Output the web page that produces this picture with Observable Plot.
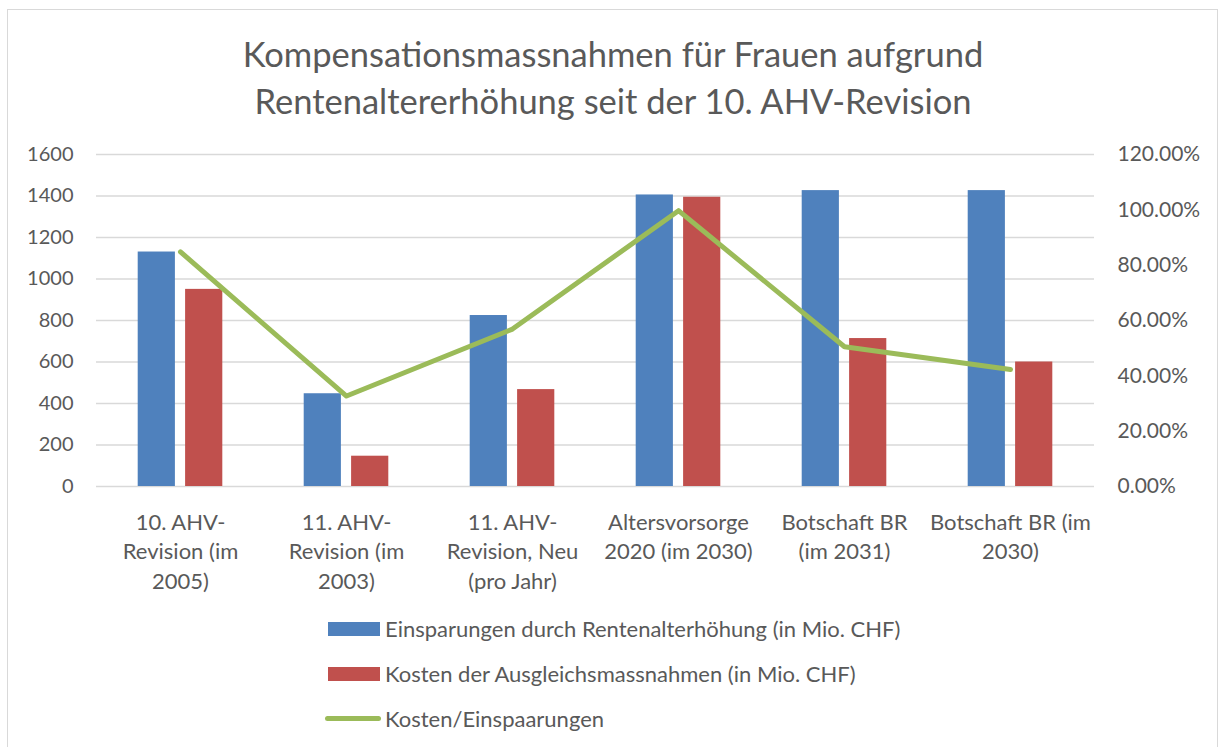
<!DOCTYPE html>
<html><head><meta charset="utf-8">
<script src="https://cdn.jsdelivr.net/npm/d3@7"></script>
<script src="https://cdn.jsdelivr.net/npm/@observablehq/plot@0.6"></script>
<style>
html,body{margin:0;padding:0;background:#fff;}
body{font-family:Lato,"Open Sans",sans-serif;color:#595959;width:1218px;height:747px;position:relative;overflow:hidden}
#frame{position:absolute;left:7px;top:9px;width:1211px;height:760px;border:1.5px solid #d9d9d9;box-sizing:border-box}
#title{position:absolute;left:0;width:1226px;top:30px;text-align:center;font-size:34.5px;line-height:47px;color:#595959}
#chart{position:absolute;left:0;top:140px}
#legend{position:absolute;left:325px;top:606px;font-size:22px;color:#595959}
.row{height:45px;display:flex;align-items:center}
.sw{width:52px;height:14px;margin-left:3px;margin-right:5px}
.ln{width:56px;height:5px;border-radius:3px;margin-right:4px;background:#9bbb59}
</style></head>
<body>
<div id="frame"></div>
<div id="title">Kompensationsmassnahmen für Frauen aufgrund<br>Rentenaltererhöhung seit der 10. AHV-Revision</div>
<div id="chart"></div>
<div id="legend"></div>
<script>
const categories = ["10. AHV-Revision (im 2005)", "11. AHV-Revision (im 2003)", "11. AHV-Revision, Neu (pro Jahr)", "Altersvorsorge 2020 (im 2030)", "Botschaft BR (im 2031)", "Botschaft BR (im 2030)"];
const categoryLabels = ["10. AHV-\nRevision (im\n2005)", "11. AHV-\nRevision (im\n2003)", "11. AHV-\nRevision, Neu\n(pro Jahr)", "Altersvorsorge\n2020 (im 2030)", "Botschaft BR\n(im 2031)", "Botschaft BR (im\n2030)"];
const einsparungen = [1130, 447, 824, 1405, 1426, 1426];
const kosten = [950, 146, 467, 1394, 713, 600];
const verhaeltnis = [0.848, 0.327, 0.569, 0.997, 0.505, 0.423];
const yTicks = [0, 200, 400, 600, 800, 1000, 1200, 1400, 1600];
const pctTicks = [0, 0.2, 0.4, 0.6, 0.8, 1.0, 1.2];
const seriesNames = ["Einsparungen durch Rentenalterhöhung (in Mio. CHF)", "Kosten der Ausgleichsmassnahmen (in Mio. CHF)", "Kosten/Einspaarungen"];
const colors = ["#4f81bd", "#c0504d", "#9bbb59"];

const yMax = 1600, pctMax = 1.2;
const rows = categories.map((c, i) => ({cat: c, save: einsparungen[i], cost: kosten[i], ratio: verhaeltnis[i]}));
const labelOf = new Map(categories.map((c, i) => [c, categoryLabels[i]]));

const plot = Plot.plot({
  width: 1218, height: 470,
  marginTop: 14, marginBottom: 124, marginLeft: 96, marginRight: 124,
  style: {fontFamily: "Lato, 'Open Sans', sans-serif", color: "#595959", background: "transparent"},
  x: {type: "band", domain: categories, padding: 0},
  y: {domain: [0, yMax]},
  marks: [
    Plot.ruleY(yTicks, {stroke: "#d9d9d9", strokeWidth: 1.5}),
    Plot.barY(rows, {x: "cat", y: "save", fill: colors[0], insetLeft: 64.4, insetRight: 64.4, dx: -23.7}),
    Plot.barY(rows, {x: "cat", y: "cost", fill: colors[1], insetLeft: 64.4, insetRight: 64.4, dx: 23.7}),
    Plot.line(rows, {x: "cat", y: d => d.ratio / pctMax * yMax, stroke: colors[2], strokeWidth: 5, strokeLinecap: "round", strokeLinejoin: "round"}),
    Plot.axisY({anchor: "left", ticks: yTicks, tickFormat: d => String(d), tickSize: 0, tickPadding: 23, fontSize: 20, label: null}),
    Plot.axisY({anchor: "right", ticks: pctTicks.map(p => p / pctMax * yMax), tickFormat: v => (v / yMax * pctMax * 100).toFixed(2) + "%", tickSize: 0, tickPadding: 23, fontSize: 21, label: null}),
    Plot.axisX({anchor: "bottom", tickSize: 0, tickPadding: 22, fontSize: 22, lineHeight: 1.35, tickFormat: d => labelOf.get(d), label: null})
  ]
});
document.getElementById("chart").appendChild(plot);

const legend = document.getElementById("legend");
seriesNames.forEach((name, i) => {
  const row = document.createElement("div");
  row.className = "row";
  const sw = document.createElement("div");
  if (i < 2) { sw.className = "sw"; sw.style.background = colors[i]; }
  else { sw.className = "ln"; }
  row.appendChild(sw);
  const t = document.createElement("span");
  t.textContent = name;
  row.appendChild(t);
  legend.appendChild(row);
});
</script>
</body></html>
